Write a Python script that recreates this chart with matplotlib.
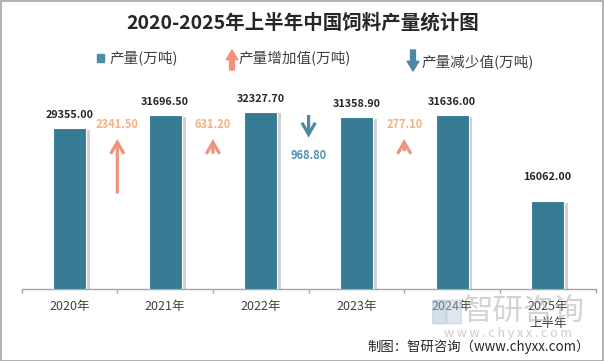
import matplotlib
matplotlib.use("Agg")
import matplotlib.pyplot as plt
from matplotlib.patches import FancyArrowPatch, Rectangle, FancyBboxPatch
import matplotlib.patheffects as pe

plt.rcParams['font.family'] = ['Noto Sans CJK SC', 'DejaVu Sans']

# ---- data ----
years = ["2020年", "2021年", "2022年", "2023年", "2024年", "2025年\n上半年"]
output = [29355.00, 31696.50, 32327.70, 31358.90, 31636.00, 16062.00]
# changes between consecutive full years (2020->2021 ... 2023->2024)
changes = [2341.50, 631.20, -968.80, 277.10]

title = "2020-2025年上半年中国饲料产量统计图"
legend_labels = ["产量(万吨)", "产量增加值(万吨)", "产量减少值(万吨)"]

# ---- style ----
BAR = '#367b93'
UP = '#f0927c'
UP_TXT = '#f4b183'
DOWN = '#4b88a2'
DOWN_TXT = '#5190b3'
TXT = '#404040'

W, H = 604, 361
fig = plt.figure(figsize=(W / 100, H / 100), dpi=100)

def fx(px):
    return px / W

def fy(py):
    return 1 - py / H

ax = fig.add_axes([fx(21.7), fy(289), (595.5 - 21.7) / W, (289 - 69.6) / H])
ax.set_xlim(-0.5, len(years) - 0.5)
ax.set_ylim(0, 40000)

xs = list(range(len(years)))
bars = ax.bar(xs, output, width=0.345, color=BAR, zorder=3,
              edgecolor='white', linewidth=0.8)
for b in bars:
    b.set_path_effects([pe.SimplePatchShadow(offset=(2.8, -1.2), shadow_rgbFace='#9a9a9a', alpha=0.45),
                        pe.Normal()])

# value labels
label_offsets = [9.4, 9.4, 9.4, 9.4, 9.4, 17.0]
for x, v, off in zip(xs, output, label_offsets):
    ax.annotate(f"{v:.2f}", (x, v), xytext=(0, off), textcoords='offset points',
                ha='center', va='center', fontsize=7.8, fontweight='bold',
                color='#262626', zorder=5)

# change arrows
K = 4.25
MINLEN = 2200
UP_TIP = 27350
DOWN_TAIL = 31720
for i, d in enumerate(changes):
    x = i + 0.5
    length = max(abs(d) * K, MINLEN)
    if d >= 0:
        tail, tip = UP_TIP - length, UP_TIP
        col, tcol = UP, UP_TXT
        ax.annotate(f"{abs(d):.2f}", (x, 30000), ha='center', va='center',
                    fontsize=8, color=tcol, fontweight='bold', zorder=5)
    else:
        tail, tip = DOWN_TAIL, DOWN_TAIL - length
        col, tcol = DOWN, DOWN_TXT
        ax.annotate(f"{abs(d):.2f}", (x, tip), xytext=(0, -13), textcoords='offset points',
                    ha='center', va='center', fontsize=8, color=tcol,
                    fontweight='bold', zorder=5)
    arr = FancyArrowPatch((x, tail), (x, tip), arrowstyle='->,head_length=0.42,head_width=0.24',
                          mutation_scale=20, color=col, linewidth=2.3, zorder=4,
                          shrinkA=0, shrinkB=0, capstyle='butt', joinstyle='miter')
    ax.add_patch(arr)

# axes styling
for s in ['left', 'top', 'right']:
    ax.spines[s].set_visible(False)
ax.spines['bottom'].set_color('#a6a6a6')
ax.spines['bottom'].set_linewidth(1.0)
ax.set_yticks([])
ax.set_xticks(xs)
ax.set_xticklabels(years, fontsize=9, color=TXT, linespacing=1.35)
ax.tick_params(axis='x', which='major', length=0, pad=8)
ax.set_xticks([i - 0.5 for i in range(len(years) + 1)], minor=True)
ax.tick_params(axis='x', which='minor', length=3, color='#a6a6a6', width=1)

# title
fig.text(fx(302.5), fy(23), title, ha='center', va='center', fontsize=14,
         fontweight='bold', color='#262626')

# legend
fig.patches.append(Rectangle((fx(97), fy(61.5)), 7 / W, 7 / H, transform=fig.transFigure,
                             color='#4a8fa8', figure=fig))
fig.text(fx(109), fy(58), legend_labels[0], ha='left', va='center', fontsize=10.5, color=TXT)
fig.patches.append(FancyArrowPatch((fx(232), fy(70)), (fx(232), fy(50)), transform=fig.transFigure,
                                   arrowstyle='simple,head_length=0.5,head_width=0.6,tail_width=0.25',
                                   mutation_scale=14, color=UP, figure=fig, shrinkA=0, shrinkB=0))
fig.text(fx(238), fy(59), legend_labels[1], ha='left', va='center', fontsize=10.5, color=TXT)
fig.patches.append(FancyArrowPatch((fx(413), fy(50)), (fx(413), fy(71)), transform=fig.transFigure,
                                   arrowstyle='simple,head_length=0.5,head_width=0.6,tail_width=0.25',
                                   mutation_scale=14, color=DOWN, figure=fig, shrinkA=0, shrinkB=0))
fig.text(fx(421), fy(62), legend_labels[2], ha='left', va='center', fontsize=10.5, color=TXT)

# watermark (logo + text)
fig.patches.append(FancyBboxPatch((fx(434), fy(323)), 11 / W, 22 / H, transform=fig.transFigure,
                                  boxstyle='round,pad=0.002', color='#9db8d0', alpha=0.45,
                                  figure=fig, zorder=0))
fig.patches.append(FancyBboxPatch((fx(448), fy(323)), 12 / W, 22 / H, transform=fig.transFigure,
                                  boxstyle='round,pad=0.002', color='#b8c8d6', alpha=0.45,
                                  figure=fig, zorder=0))
fig.text(fx(524), fy(311), "智研咨询", ha='center', va='center', fontsize=22,
         color='#b0b0b0', alpha=0.55, zorder=0)
fig.text(fx(508), fy(333), "w w w . c h y x x . c o m", ha='center', va='center',
         fontsize=9, color='#b8b8b8', alpha=0.7, zorder=0)

# credit
fig.text(fx(590), fy(347), "制图：智研咨询（www.chyxx.com）", ha='right', va='center',
         fontsize=9.6, color='#262626')

# border
fig.patches.append(Rectangle((0.5 / W, 0.5 / H), 1 - 1.5 / W, 1 - 1.5 / H, transform=fig.transFigure,
                             fill=False, edgecolor='#a6a6a6', linewidth=1.2, figure=fig))

fig.savefig("out.png", dpi=100)
